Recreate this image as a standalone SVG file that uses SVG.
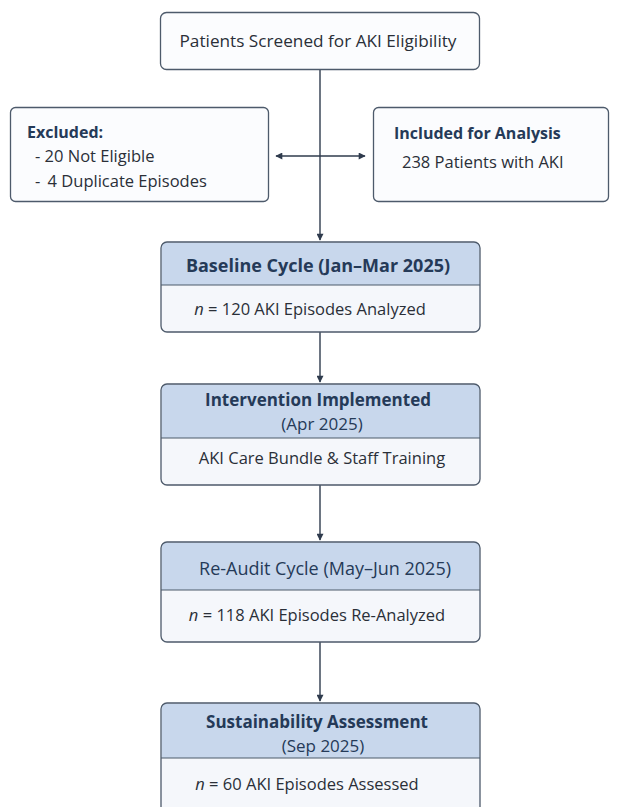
<svg xmlns="http://www.w3.org/2000/svg" width="619" height="807" viewBox="0 0 619 807">
<defs>
<style>
.box{fill:#fbfcfe;stroke:#4d5a6b;stroke-width:1.3}
.body{fill:#f5f7fb}
.frame{fill:none;stroke:#4d5a6b;stroke-width:1.3}
.hdr{fill:#c8d7ec}
.sep{stroke:#4d5a6b;stroke-width:1}
.t{font-family:"Open Sans","Noto Sans",sans-serif;font-size:16.5px;fill:#2a2f38}
.h{font-family:"Open Sans","Noto Sans",sans-serif;font-size:18px;font-weight:bold;fill:#253a58}
.hr{font-family:"Open Sans","Noto Sans",sans-serif;font-size:18px;fill:#253a58}
.h2{font-size:17px}
.b{font-family:"Open Sans","Noto Sans",sans-serif;font-size:16px;font-weight:bold;fill:#253a58}
.c{text-anchor:middle}
.ln{stroke:#2f3b4d;stroke-width:1.4;fill:none}
</style>
<marker id="ah" viewBox="0 0 10 10" refX="9" refY="5" markerWidth="8" markerHeight="7" markerUnits="userSpaceOnUse" orient="auto-start-reverse">
<path d="M0,0 L10,5 L0,10 z" fill="#2f3b4d"/>
</marker>
</defs>
<rect width="619" height="807" fill="#ffffff"/>
<g id="connectors">
<line class="ln" x1="320" y1="70" x2="320" y2="240" marker-end="url(#ah)"/>
<line class="ln" x1="276" y1="156" x2="365" y2="156" marker-start="url(#ah)" marker-end="url(#ah)"/>
<line class="ln" x1="320" y1="332" x2="320" y2="382" marker-end="url(#ah)"/>
<line class="ln" x1="320" y1="485" x2="320" y2="540" marker-end="url(#ah)"/>
<line class="ln" x1="320" y1="642" x2="320" y2="701" marker-end="url(#ah)"/>
</g>
<g id="screened">
<rect class="box" x="160.5" y="12.5" width="319" height="57" rx="6"/>
<text class="t c" x="318" y="47" style="font-size:17.2px">Patients Screened for AKI Eligibility</text>
</g>
<g id="excluded">
<rect class="box" x="10.5" y="107.5" width="258" height="94" rx="5"/>
<text class="b" x="27" y="138">Excluded:</text>
<text class="t" x="35" y="162">- 20 Not Eligible</text>
<text class="t" x="35" y="187">- <tspan dx="3">4 Duplicate Episodes</tspan></text>
</g>
<g id="included">
<rect class="box" x="373.5" y="107.5" width="235" height="94" rx="5"/>
<text class="b" x="394" y="139">Included for Analysis</text>
<text class="t" x="402" y="168">238 Patients with AKI</text>
</g>
<g id="baseline">
<rect class="body" x="161" y="242" width="319" height="90" rx="6"/>
<path class="hdr" d="M161.5,285 V248 a5.5,5.5 0 0 1 5.5,-5.5 H474 a5.5,5.5 0 0 1 5.5,5.5 V285 z"/>
<rect class="frame" x="161" y="242" width="319" height="90" rx="6"/>
<line class="sep" x1="161" y1="285" x2="480" y2="285"/>
<text class="h c" x="318" y="272">Baseline Cycle (Jan–Mar 2025)</text>
<text class="t c" x="310" y="315"><tspan font-style="italic">n</tspan> = 120 AKI Episodes Analyzed</text>
</g>
<g id="intervention">
<rect class="body" x="161" y="384" width="319" height="101" rx="6"/>
<path class="hdr" d="M161.5,438 V390 a5.5,5.5 0 0 1 5.5,-5.5 H474 a5.5,5.5 0 0 1 5.5,5.5 V438 z"/>
<rect class="frame" x="161" y="384" width="319" height="101" rx="6"/>
<line class="sep" x1="161" y1="438" x2="480" y2="438"/>
<text class="h h2 c" x="318" y="406">Intervention Implemented</text>
<text class="hr h2 c" x="322" y="430">(Apr 2025)</text>
<text class="t c" x="322" y="464">AKI Care Bundle &amp; Staff Training</text>
</g>
<g id="reaudit">
<rect class="body" x="161" y="542" width="319" height="100" rx="6"/>
<path class="hdr" d="M161.5,590 V548 a5.5,5.5 0 0 1 5.5,-5.5 H474 a5.5,5.5 0 0 1 5.5,5.5 V590 z"/>
<rect class="frame" x="161" y="542" width="319" height="100" rx="6"/>
<line class="sep" x1="161" y1="590" x2="480" y2="590"/>
<text class="hr c" x="325" y="575">Re-Audit Cycle (May–Jun 2025)</text>
<text class="t c" x="317" y="621"><tspan font-style="italic">n</tspan> = 118 AKI Episodes Re-Analyzed</text>
</g>
<g id="sustainability">
<rect class="body" x="161" y="703" width="319" height="120" rx="6"/>
<path class="hdr" d="M161.5,758 V709 a5.5,5.5 0 0 1 5.5,-5.5 H474 a5.5,5.5 0 0 1 5.5,5.5 V758 z"/>
<rect class="frame" x="161" y="703" width="319" height="120" rx="6"/>
<line class="sep" x1="161" y1="758" x2="480" y2="758"/>
<text class="h h2 c" x="317" y="728">Sustainability Assessment</text>
<text class="hr h2 c" x="323" y="752">(Sep 2025)</text>
<text class="t c" x="307" y="790"><tspan font-style="italic">n</tspan> = 60 AKI Episodes Assessed</text>
</g>
</svg>
